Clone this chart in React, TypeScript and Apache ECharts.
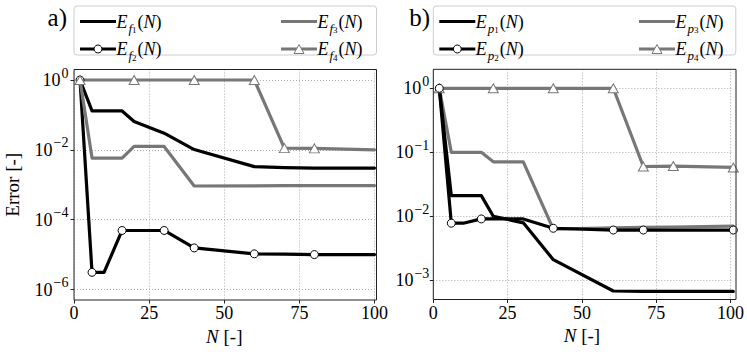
import React, { useEffect, useRef } from 'react';
import * as echarts from 'echarts';

// Problem sizes N (x axis), shared by all series
const N = [2, 6, 10, 16, 20, 30, 40, 60, 70, 80, 100];

// Panel a) – E_f errors
const Ef1 = [1, 0.13, 0.13, 0.13, 0.065, 0.030, 0.0102, 0.0033, 0.0031, 0.0030, 0.0030];
const Ef2 = [1, 3.1e-6, 3.1e-6, 4.9e-5, 4.9e-5, 4.9e-5, 1.55e-5, 1.05e-5, 1.03e-5, 1.0e-5, 1.0e-5];
const Ef3 = [1, 0.0058, 0.0058, 0.0058, 0.0125, 0.0125, 0.00092, 0.00093, 0.00094, 0.00094, 0.00095];
const Ef4 = [1, 1, 1, 1, 1, 1, 1, 1, 0.0112, 0.011, 0.0100];
const Ef2Markers = [0, 1, 3, 5, 6, 7, 9];
const Ef4Markers = [0, 4, 6, 7, 8, 9];

// Panel b) – E_p errors
const Ep1 = [1, 0.021, 0.021, 0.021, 0.0100, 0.0079, 0.0021, 0.00068, 0.00067, 0.00067, 0.00067];
const Ep2 = [1, 0.0078, 0.0078, 0.0091, 0.0091, 0.0091, 0.0065, 0.0061, 0.0061, 0.0061, 0.0061];
const Ep3 = [1, 0.10, 0.10, 0.10, 0.071, 0.071, 0.0063, 0.0066, 0.0067, 0.0068, 0.0070];
const Ep4 = [1, 1, 1, 1, 1, 1, 1, 1, 0.060, 0.061, 0.058];
const Ep2Markers = [0, 1, 3, 6, 7, 8, 10];
const Ep4Markers = [0, 4, 6, 7, 8, 9, 10];

// Axis ranges (decade exponents) and tick steps
const xMin = 0;
const xMax = 100;
const xStep = 25;
const aExpMin = -6;
const aExpMax = 0;
const aExpStep = 2;
const bExpMin = -3;
const bExpMax = 0;
const bExpStep = 1;

const FONT = 'Liberation Serif';
const BLACK = '#000000';
const GRAY = '#777777';
const GRID = '#a0a0a0';
const SPINE = '#222222';

function toData(vals: number[], markers: number[] | null, sym: string) {
  return vals.map((v, i) => ({
    value: [N[i], Math.log10(v)],
    symbol: markers && markers.includes(i) ? sym : 'none',
  }));
}

function makeSeries(name: string, vals: number[], color: string, axis: number, markers: number[] | null, sym: string) {
  return {
    type: 'line',
    name,
    xAxisIndex: axis,
    yAxisIndex: axis,
    data: toData(vals, markers, sym),
    clip: false,
    showSymbol: true,
    showAllSymbol: true,
    symbol: markers ? sym : 'none',
    symbolSize: sym === 'triangle' ? [10, 9] : 8,
    lineStyle: { color, width: 3.2, join: 'round', cap: 'round' },
    itemStyle: { color: '#ffffff', borderColor: color, borderWidth: 1 },
    silent: true,
    emphasis: { disabled: true },
    animation: false,
  };
}

const legendRich = {
  e: { fontFamily: FONT, fontStyle: 'italic', fontSize: 18, lineHeight: 26, fill: BLACK, color: BLACK },
  p: { fontFamily: FONT, fontSize: 18, lineHeight: 26, fill: BLACK, color: BLACK },
  f: { fontFamily: FONT, fontStyle: 'italic', fontSize: 13, lineHeight: 18, verticalAlign: 'bottom', padding: [0, 0, 0, 1], fill: BLACK, color: BLACK },
  g: { fontFamily: FONT, fontSize: 9, lineHeight: 12, verticalAlign: 'bottom', padding: [0, 1, 0, 0], fill: BLACK, color: BLACK },
};

function legendLabel(letter: string, idx: number) {
  return `{e|E}{f|${letter}}{g|${idx}}{p|(}{e|N}{p|)}`;
}

function legendGraphic(x0: number, col2: number, letter: string) {
  const row1 = 21.5;
  const row2 = 49;
  const w = 36;
  const items: any[] = [];
  items.push({
    type: 'rect', z: 60,
    shape: { x: x0, y: 6, width: 302.5, height: 49, r: 3 },
    style: { fill: '#ffffff', stroke: '#cccccc', lineWidth: 1 },
  });
  const lx1 = x0 + 6;
  const lx2 = col2;
  const entries = [
    { x: lx1, y: row1, color: BLACK, m: null, idx: 1 },
    { x: lx1, y: row2, color: BLACK, m: 'circle', idx: 2 },
    { x: lx2, y: row1, color: GRAY, m: null, idx: 3 },
    { x: lx2, y: row2, color: GRAY, m: 'triangle', idx: 4 },
  ];
  entries.forEach((en) => {
    items.push({
      type: 'line', z: 61,
      shape: { x1: en.x, y1: en.y, x2: en.x + w, y2: en.y },
      style: { stroke: en.color, lineWidth: 3.2 },
    });
    const cx = en.x + w / 2;
    if (en.m === 'circle') {
      items.push({
        type: 'circle', z: 62,
        shape: { cx, cy: en.y, r: 4 },
        style: { fill: '#ffffff', stroke: BLACK, lineWidth: 1 },
      });
    } else if (en.m === 'triangle') {
      items.push({
        type: 'polygon', z: 62,
        shape: { points: [[cx, en.y - 4.5], [cx - 5, en.y + 4.5], [cx + 5, en.y + 4.5]] },
        style: { fill: '#ffffff', stroke: GRAY, lineWidth: 1 },
      });
    }
    items.push({
      type: 'text', z: 62,
      x: en.x + w + 0.5, y: en.y,
      style: {
        text: legendLabel(letter, en.idx),
        rich: legendRich,
        align: 'left',
        verticalAlign: 'middle',
        fontFamily: FONT,
        fontSize: 18,
        fill: BLACK,
      },
    });
  });
  return items;
}

function yLabel(v: number) {
  const exp = v === 0 ? '0' : '\u2212' + Math.abs(v);
  return `{b|10}{s|${exp}}`;
}

const yRich = {
  b: { fontFamily: FONT, fontSize: 18, lineHeight: 28, color: BLACK },
  s: { fontFamily: FONT, fontSize: 14, lineHeight: 15, verticalAlign: 'top', padding: [0, 0, 0, 1], color: BLACK },
};

function boxX(gridIndex: number, withName: boolean) {
  return {
    type: 'value', gridIndex, min: xMin, max: xMax, interval: xStep,
    axisLine: { show: false },
    axisTick: { show: true, length: 3.5, lineStyle: { color: SPINE, width: 1 } },
    axisLabel: { margin: 4, fontFamily: FONT, fontSize: 18, color: BLACK },
    splitLine: { show: true, lineStyle: { color: GRID, width: 0.9, type: [1, 2] } },
    name: withName ? '{i|N}{r| [-]}' : '',
    nameLocation: 'middle',
    nameGap: 26,
    nameTextStyle: {
      rich: {
        i: { fontFamily: FONT, fontStyle: 'italic', fontSize: 19, color: BLACK },
        r: { fontFamily: FONT, fontSize: 19, color: BLACK },
      },
    },
  };
}

function hiddenX(gridIndex: number) {
  return { type: 'value', gridIndex, min: xMin, max: xMax, interval: xStep, show: false };
}

function hiddenY(gridIndex: number) {
  return { type: 'value', gridIndex, min: 0, max: 1, show: false };
}

function dataY(gridIndex: number, min: number, max: number, step: number, margin: number, name: string) {
  return {
    type: 'value', gridIndex, min, max, interval: step,
    axisLine: { show: false },
    axisTick: { show: true, length: 3.5, lineStyle: { color: SPINE, width: 1 } },
    axisLabel: { margin, formatter: yLabel, rich: yRich },
    splitLine: { show: true, lineStyle: { color: GRID, width: 0.9, type: [1, 2] } },
    name,
    nameLocation: 'middle',
    nameRotate: 90,
    nameGap: 52,
    nameTextStyle: { fontFamily: FONT, fontSize: 19, color: BLACK },
  };
}

export default function App() {
  const ref = useRef<HTMLDivElement>(null);
  useEffect(() => {
    if (!ref.current) return;
    const chart = echarts.init(ref.current, undefined, { renderer: 'svg' });
    const option: any = {
      animation: false,
      backgroundColor: '#ffffff',
      textStyle: { fontFamily: FONT },
      grid: [
        { left: 74, top: 69.5, width: 300.5, height: 230.5 },
        { left: 74, top: 80, width: 300.5, height: 209.5 },
        { left: 433.3, top: 69.3, width: 300, height: 230.2 },
        { left: 433.3, top: 88.3, width: 300, height: 192 },
      ],
      xAxis: [boxX(0, true), hiddenX(1), boxX(2, true), hiddenX(3)],
      yAxis: [
        hiddenY(0),
        dataY(1, aExpMin, aExpMax, aExpStep, 5.5, 'Error [-]'),
        hiddenY(2),
        dataY(3, bExpMin, bExpMax, bExpStep, 4, ''),
      ],
      series: [
        makeSeries('Ef1', Ef1, BLACK, 1, null, 'none'),
        makeSeries('Ef2', Ef2, BLACK, 1, Ef2Markers, 'circle'),
        makeSeries('Ef3', Ef3, GRAY, 1, null, 'none'),
        makeSeries('Ef4', Ef4, GRAY, 1, Ef4Markers, 'triangle'),
        makeSeries('Ep3', Ep3, GRAY, 3, null, 'none'),
        makeSeries('Ep4', Ep4, GRAY, 3, Ep4Markers, 'triangle'),
        makeSeries('Ep1', Ep1, BLACK, 3, null, 'none'),
        makeSeries('Ep2', Ep2, BLACK, 3, Ep2Markers, 'circle'),
      ],
      graphic: [
        {
          type: 'rect', z: 50, silent: true,
          shape: { x: 74, y: 69.5, width: 302.5, height: 230.5 },
          style: { fill: 'none', stroke: SPINE, lineWidth: 1 },
        },
        {
          type: 'rect', z: 50, silent: true,
          shape: { x: 433.3, y: 69.3, width: 302.7, height: 230.2 },
          style: { fill: 'none', stroke: SPINE, lineWidth: 1 },
        },
        {
          type: 'text', z: 60, x: 67, y: 17,
          style: { text: 'a)', align: 'right', verticalAlign: 'middle', fontFamily: FONT, fontSize: 25, fill: BLACK },
        },
        {
          type: 'text', z: 60, x: 430, y: 17,
          style: { text: 'b)', align: 'right', verticalAlign: 'middle', fontFamily: FONT, fontSize: 25, fill: BLACK },
        },
        ...legendGraphic(74, 281, 'f'),
        ...legendGraphic(433.3, 639, 'p'),
      ],
    };
    chart.setOption(option);
    return () => chart.dispose();
  }, []);
  return (
    <div
      ref={ref}
      style={{ position: 'absolute', left: 0, top: 0, width: 747, height: 359, background: '#fff' }}
    />
  );
}
